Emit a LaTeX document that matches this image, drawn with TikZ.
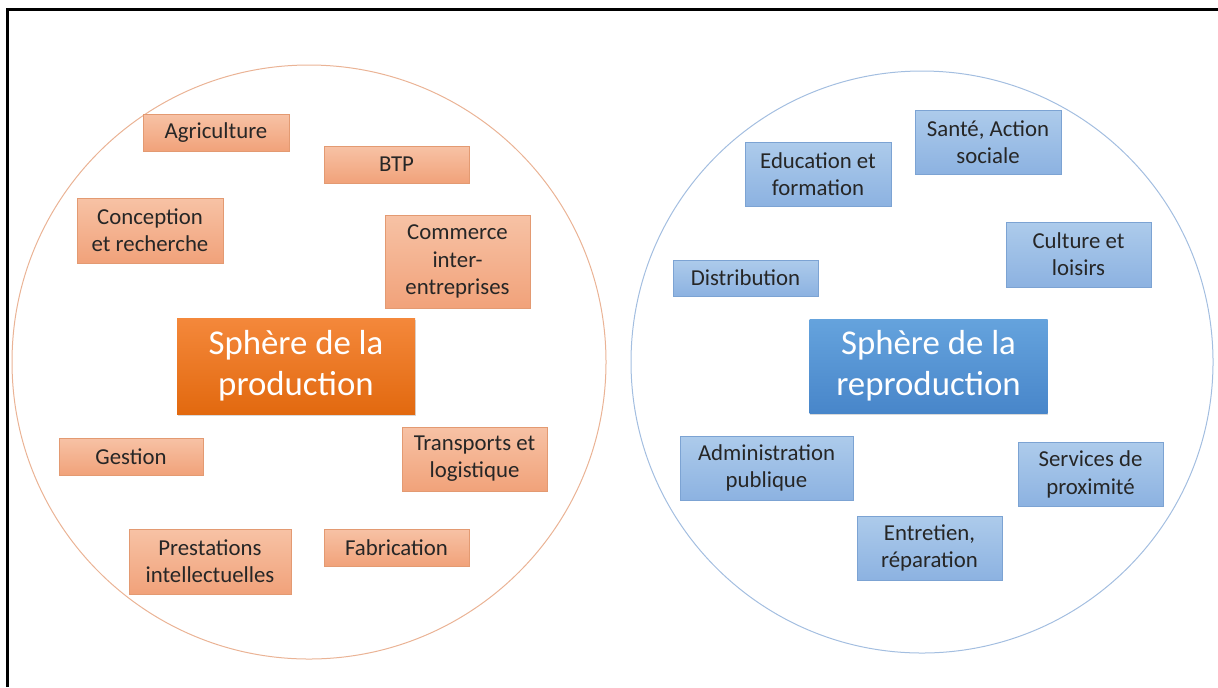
\documentclass[tikz,border=0pt]{standalone}
\usepackage{fontspec}
\setmainfont{Carlito}
\usetikzlibrary{shadows}
\definecolor{orlight}{HTML}{F7C2A5}
\definecolor{ordark}{HTML}{F1A27A}
\definecolor{orline}{HTML}{E39A72}
\definecolor{orbig}{HTML}{F4883B}
\definecolor{orbigdk}{HTML}{E2690F}
\definecolor{bllight}{HTML}{ADCBEB}
\definecolor{bldark}{HTML}{8CB2E1}
\definecolor{blline}{HTML}{7CA3D3}
\definecolor{blbig}{HTML}{65A3DD}
\definecolor{blbigdk}{HTML}{4886CA}
\definecolor{txt}{HTML}{262626}
\begin{document}
\begin{tikzpicture}[x=0.5pt,y=-0.5pt,
    box/.style={rectangle,align=center,inner sep=0pt,text=txt,
        font=\fontsize{11.4}{13.6}\selectfont},
    prodbox/.style={box,draw=orline,line width=0.5pt,top color=orlight,bottom color=ordark},
    reprbox/.style={box,draw=blline,line width=0.5pt,top color=bllight,bottom color=bldark},
    bigbox/.style={box,text=white,font=\fontsize{17.4}{20.5}\selectfont,
        minimum width=119pt,
        drop shadow={shadow xshift=0.4pt,shadow yshift=-1.2pt,opacity=0.3}},
    w/.style={minimum width=#1*0.5pt},
    h/.style={minimum height=#1*0.5pt}]
    \useasboundingbox (0,0) rectangle (1218,687);
    % cadre
    \draw[line width=1.5pt] (7.5,687) |- (1218,9.5);
    % les deux spheres
    \draw[orline!75!white,line width=0.5pt] (309,362) circle[radius=297];
    \draw[blline!70!white,line width=0.5pt] (922,362) circle[radius=291];

    % sphere de la production
    \begin{scope}[every node/.append style={prodbox}]
        \node[w=146,h=37] (agri) at (216,132.5) {Agriculture};
        \node[w=145,h=37] (btp) at (396.5,164.5) {BTP};
        \node[w=146,h=65] (concep) at (150,230.5) {Conception\\et recherche};
        \node[w=145,h=93] (commerce) at (457.5,261.5) {Commerce\\inter-\\entreprises};
        \node[w=144,h=37] (gestion) at (131,456.5) {Gestion};
        \node[w=145,h=64] (transp) at (474.5,459) {Transports et\\logistique};
        \node[w=162,h=65] (prest) at (210,561.5) {Prestations\\intellectuelles};
        \node[w=145,h=37] (fabric) at (396.5,547.5) {Fabrication};
    \end{scope}
    \node[bigbox,top color=orbig,bottom color=orbigdk,h=96] (prod) at (296,366)
        {Sphère de la\\production};

    % sphere de la reproduction
    \begin{scope}[every node/.append style={reprbox}]
        \node[w=146,h=64] (educ) at (818,174) {Education et\\formation};
        \node[w=146,h=64] (sante) at (988,142) {Santé, Action\\sociale};
        \node[w=145,h=36] (distrib) at (745.5,278) {Distribution};
        \node[w=145,h=65] (culture) at (1078.5,254.5) {Culture et\\loisirs};
        \node[w=173,h=64] (admin) at (766.5,468) {Administration\\publique};
        \node[w=145,h=64] (servprox) at (1090.5,474.5) {Services de\\proximité};
        \node[w=145,h=64] (entretien) at (929.5,548) {Entretien,\\réparation};
    \end{scope}
    \node[bigbox,top color=blbig,bottom color=blbigdk,h=94] (repro) at (928.5,366)
        {Sphère de la\\reproduction};
\end{tikzpicture}
\end{document}
